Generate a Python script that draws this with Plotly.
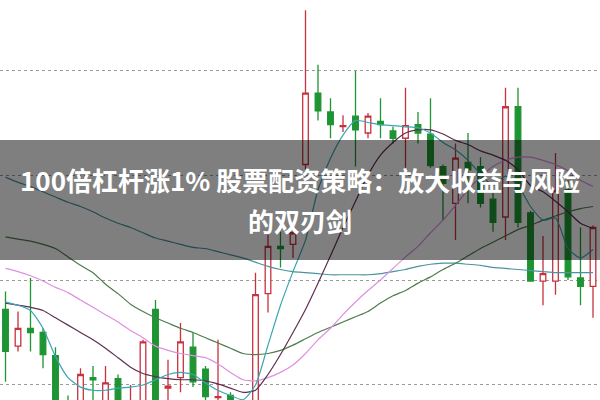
import plotly.graph_objects as go

# ---- data (price units) ----
idx = list(range(48))
opens  = [3.72,3.37,3.54,3.50,3.28,2.80,2.78,3.07,2.80,3.06,2.75,2.82,3.72,2.97,3.07,3.36,3.15,2.88,2.90,2.75,
          2.82,3.87,4.32,4.34,5.10,5.78,5.60,5.46,5.56,5.40,5.51,5.42,5.35,5.48,5.39,5.08,4.73,5.12,5.08,4.77,
          4.60,5.65,4.64,3.99,3.99,4.86,4.02,3.94]
highs  = [3.89,3.70,4.02,3.54,3.36,2.90,3.16,3.18,3.18,3.10,3.00,3.43,3.81,3.24,3.59,3.50,3.18,3.43,2.93,2.84,
          4.07,4.43,4.46,4.48,6.57,6.05,5.73,5.57,5.99,5.59,5.73,5.46,5.83,5.60,5.73,5.10,5.30,5.40,5.17,4.83,
          5.83,5.83,4.66,4.42,5.21,4.95,4.50,4.52]
lows   = [3.03,3.32,3.32,3.16,2.75,2.68,2.72,2.85,2.75,2.78,2.70,2.78,2.80,2.85,2.93,2.98,2.82,2.80,2.75,2.70,
          2.78,3.69,4.12,4.21,5.05,5.52,5.35,5.41,5.08,5.35,5.35,5.30,5.07,5.30,5.07,4.57,4.38,4.73,4.69,4.46,
          4.38,4.50,3.99,3.76,3.86,4.00,3.76,3.64]
closes = [3.32,3.54,3.50,3.29,2.80,2.74,3.10,3.05,3.02,2.82,2.85,3.41,2.85,2.99,3.41,3.03,2.89,2.89,2.80,2.82,
          3.86,4.32,4.30,4.45,5.78,5.61,5.48,5.47,5.43,5.56,5.48,5.35,5.47,5.40,5.09,4.92,5.16,5.05,4.73,4.55,
          5.65,4.55,3.99,4.06,4.85,4.03,3.94,4.50]

ma5   = [3.79,3.76,3.71,3.54,3.27,3.07,2.98,2.95,2.95,2.97,2.98,3.00,3.05,3.10,3.12,3.10,3.02,2.95,2.90,2.86,
         3.00,3.38,3.76,4.08,4.38,4.86,5.16,5.38,5.52,5.50,5.48,5.47,5.46,5.45,5.40,5.31,5.24,5.14,5.01,4.90,
         4.99,4.90,4.70,4.57,4.59,4.30,4.21,4.29]
ma10  = [3.78,3.76,3.74,3.71,3.64,3.57,3.50,3.43,3.35,3.26,3.17,3.11,3.08,3.06,3.05,3.05,3.04,3.01,2.97,2.93,
         2.95,3.10,3.29,3.50,3.72,3.97,4.23,4.50,4.75,5.00,5.19,5.31,5.40,5.43,5.43,5.39,5.33,5.29,5.23,5.19,
         5.14,5.05,4.90,4.84,4.75,4.65,4.54,4.49]
ma20  = [4.11,4.08,4.04,3.99,3.93,3.88,3.81,3.74,3.67,3.60,3.52,3.45,3.37,3.33,3.30,3.28,3.26,3.20,3.12,3.05,
         3.04,3.07,3.12,3.19,3.30,3.43,3.54,3.67,3.79,3.90,4.00,4.11,4.22,4.32,4.45,4.57,4.71,4.86,4.98,5.08,
         5.14,5.17,5.17,5.14,5.10,5.04,4.95,4.89]
ma60  = [4.41,4.39,4.37,4.34,4.30,4.22,4.14,4.07,3.96,3.87,3.77,3.70,3.64,3.59,3.54,3.50,3.45,3.40,3.35,3.30,
         3.29,3.30,3.33,3.38,3.44,3.50,3.55,3.60,3.65,3.70,3.78,3.85,3.90,3.97,4.03,4.10,4.16,4.23,4.30,4.36,
         4.42,4.48,4.52,4.57,4.61,4.65,4.68,4.70]
ma120 = [4.98,4.93,4.89,4.84,4.79,4.74,4.70,4.65,4.59,4.54,4.50,4.45,4.40,4.37,4.34,4.31,4.30,4.27,4.24,4.21,
         4.17,4.13,4.10,4.08,4.07,4.06,4.05,4.05,4.05,4.05,4.06,4.08,4.10,4.13,4.15,4.16,4.16,4.15,4.14,4.12,
         4.11,4.10,4.09,4.08,4.07,4.07,4.07,4.07]

title_line1 = "100倍杠杆涨1% 股票配资策略：放大收益与风险"
title_line2 = "的双刃剑"

RED = "#c8323f"
GREEN = "#1e9432"

fig = go.Figure()

ma_specs = [
    (ma120, "#4a93a0"),
    (ma60, "#4f7d4c"),
    (ma20, "#e090e0"),
    (ma10, "#5e2f52"),
    (ma5, "#3aa6b4"),
]
for series, col in ma_specs:
    fig.add_trace(go.Scatter(x=idx, y=series, mode="lines",
                             line=dict(color=col, width=1.2, shape="spline", smoothing=0.6),
                             hoverinfo="skip", showlegend=False))

fig.add_trace(go.Candlestick(
    x=idx, open=opens, high=highs, low=lows, close=closes,
    increasing=dict(line=dict(color=RED, width=1.3), fillcolor="white"),
    decreasing=dict(line=dict(color=GREEN, width=1.3), fillcolor=GREEN),
    whiskerwidth=0, showlegend=False,
))

fig.add_shape(type="rect", xref="paper", yref="paper", x0=0, x1=1, y0=0.35, y1=0.65,
              fillcolor="rgba(0,0,0,0.5)", line=dict(width=0), layer="above")

font = dict(family="Noto Sans CJK SC", size=26, color="white")
fig.add_annotation(text="<b>" + title_line1 + "</b>", xref="paper", yref="paper", x=0.5, y=0.55,
                   showarrow=False, font=font, xanchor="center", yanchor="middle")
fig.add_annotation(text="<b>" + title_line2 + "</b>", xref="paper", yref="paper", x=0.5, y=0.45,
                   showarrow=False, font=font, xanchor="center", yanchor="middle")

fig.update_layout(
    width=600, height=400, margin=dict(l=0, r=0, t=0, b=0),
    paper_bgcolor="white", plot_bgcolor="white", boxgap=0.36,
    xaxis=dict(range=[-0.44, 47.56], visible=False, rangeslider=dict(visible=False)),
    yaxis=dict(range=[2.857, 6.667], showticklabels=False, zeroline=False, showline=False,
               tick0=3, dtick=1, showgrid=True, gridcolor="#9a9a9a", griddash="dot", gridwidth=1),
)

fig.write_html("out.html", config={"displayModeBar": False},
               post_script="document.body.style.margin='0';document.body.style.padding='0';document.body.style.overflow='hidden';")
